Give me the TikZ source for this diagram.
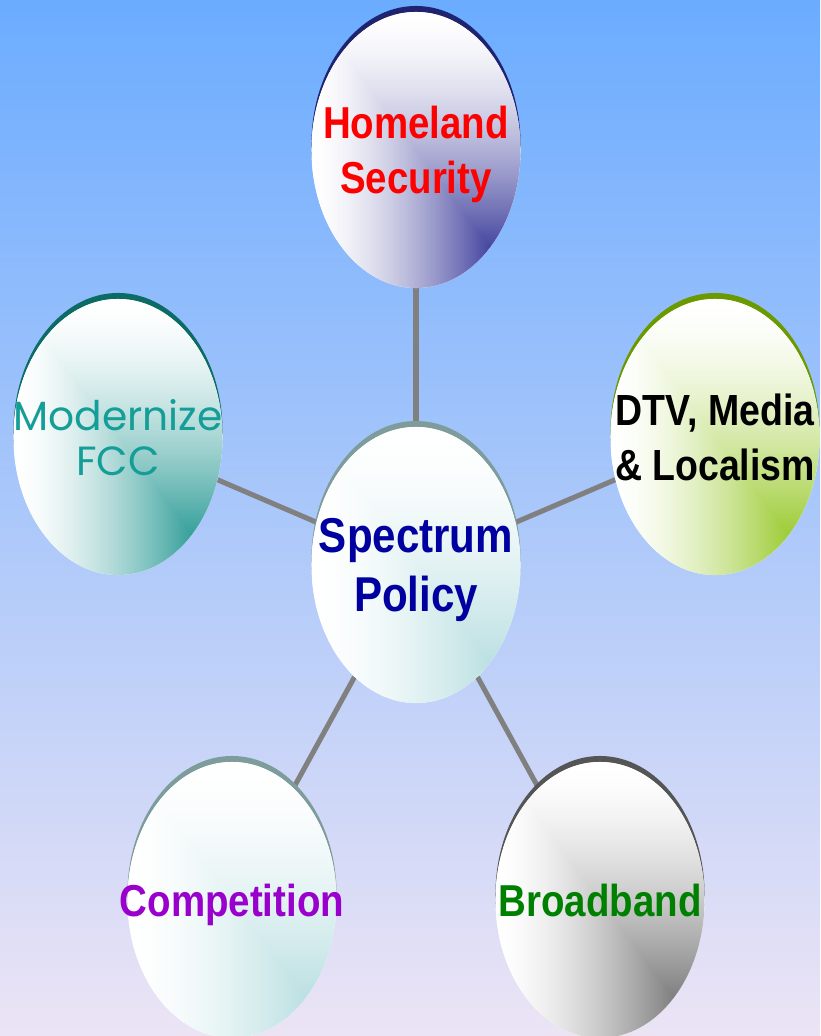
\documentclass[tikz,border=0pt]{standalone}
\usepackage{fontspec}
\setmainfont{Liberation Sans}
\newfontfamily\narrowfont[FakeStretch=0.86]{Liberation Sans}
\newfontfamily\widefont{Poppins}
\usetikzlibrary{shapes.geometric,shadows}

\pgfdeclarelayer{back}
\pgfdeclarelayer{edges}
\pgfsetlayers{back,edges,main}

\definecolor{skytop}{RGB}{107,172,255}
\definecolor{skybot}{RGB}{236,228,245}
\definecolor{linegray}{RGB}{128,128,128}
\definecolor{homec}{RGB}{70,70,160}
\definecolor{homerim}{RGB}{30,36,112}
\definecolor{fccc}{RGB}{55,160,155}
\definecolor{fccrim}{RGB}{13,107,102}
\definecolor{fcctext}{RGB}{21,158,152}
\definecolor{dtvc}{RGB}{158,204,55}
\definecolor{dtvrim}{RGB}{106,154,0}
\definecolor{specc}{RGB}{188,224,226}
\definecolor{specrim}{RGB}{127,156,156}
\definecolor{spectext}{RGB}{0,0,160}
\definecolor{comptext}{RGB}{153,0,204}
\definecolor{bandc}{RGB}{128,128,128}
\definecolor{bandrim}{RGB}{85,85,85}
\definecolor{bandtext}{RGB}{0,128,0}

% corner gradient at the oval's own size (148.12bp x 195.6bp):
% colour in the lower right, white towards the upper left
\colorlet{ovalcol}{white}
\pgfdeclarefunctionalshading[ovalcol]{oval}{\pgfpoint{-74.06bp}{-97.8bp}}{\pgfpoint{74.06bp}{97.8bp}}
  {\pgfshadecolortorgb{ovalcol}{\ovalrgb}}{
  97.8 add 195.6 div
  exch 74.06 exch sub 148.12 div
  2 copy lt {exch} if pop
  1 exch sub
  dup 0 lt {pop 0} if
  0.85 div 1.6 exp
  dup 1 gt {pop 1} if
  \ovalrgb\space
  3 index exch 1 sub mul 1 add
  exch
  3 index exch 1 sub mul 1 add
  exch
  3 -1 roll
  3 index exch 1 sub mul 1 add
  3 1 roll
  4 -1 roll pop
}

\begin{document}
\begin{tikzpicture}[x=0.025cm,y=-0.025cm,
    oval/.style 2 args={ellipse,inner sep=0pt,minimum width=5.225cm,
      minimum height=6.9cm,/utils/exec={\colorlet{ovalcol}{#1}},fill=white,
      path picture={\pgftext[at=\pgfpointanchor{path picture bounding box}{center}]{\pgfuseshading{oval}}},
      general shadow={shadow yshift=0.15cm,fill=#2}},
    txt/.style={align=center,inner sep=0pt,text depth=0pt,
      font=\narrowfont\bfseries\fontsize{31.8}{39}\selectfont},
    conn/.style={draw=linegray,line width=3.6pt}]
  \useasboundingbox (0,0) rectangle (820,1036);
  \begin{pgfonlayer}{back}
    \shade[top color=skytop,bottom color=skybot] (0,0) rectangle (820,1036);
  \end{pgfonlayer}

  \node[oval={homec}{homerim}] (home) at (416,150) {};
  \node[oval={fccc}{fccrim}] (fcc) at (118,437) {};
  \node[oval={dtvc}{dtvrim}] (dtv) at (715,437) {};
  \node[oval={specc}{specrim}] (spec) at (416,565) {};
  \node[oval={specc}{specrim}] (comp) at (232,900) {};
  \node[oval={bandc}{bandrim}] (band) at (600,900) {};

  \node[txt,red] (homet) at (home) {Homeland\\Security};
  \node[txt,fcctext,font=\widefont\fontsize{29}{32}\selectfont] (fcct) at (fcc) {Modernize\\FCC};
  \node[txt,black,font=\narrowfont\bfseries\fontsize{31}{39}\selectfont] (dtvt) at (dtv) {DTV, Media\\\& Localism};
  \node[txt,spectext,font=\narrowfont\bfseries\fontsize{34.8}{42.5}\selectfont] (spect) at (spec) {Spectrum\\Policy};
  \node[txt,comptext] (compt) at (comp) {Competition};
  \node[txt,bandtext] (bandt) at (band) {Broadband};

  \begin{pgfonlayer}{edges}
    \path[conn] (spec) edge (home)
                (spec) edge (fcc)
                (spec) edge (dtv)
                (spec) edge (comp)
                (spec) edge (band);
  \end{pgfonlayer}
\end{tikzpicture}
\end{document}
